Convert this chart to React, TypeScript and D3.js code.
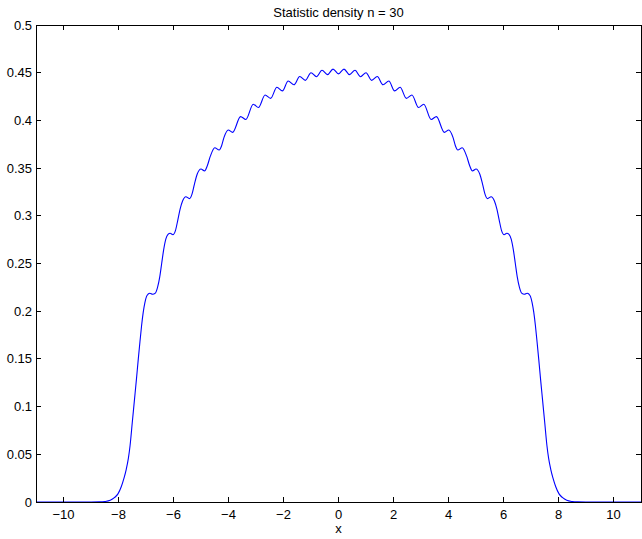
import React from "react";
import * as d3 from "d3";

const titleText = "Statistic density n = 30";
const xLabelText = "x";
const xTicks = [-10, -8, -6, -4, -2, 0, 2, 4, 6, 8, 10];
const yTicks = [0, 0.05, 0.1, 0.15, 0.2, 0.25, 0.3, 0.35, 0.4, 0.45, 0.5];
const yTickLabels = ["0", "0.05", "0.1", "0.15", "0.2", "0.25", "0.3", "0.35", "0.4", "0.45", "0.5"];

const densityX = [
  -11, -9.5, -9, -8.7, -8.5, -8.3, -8.15, -8.02, -7.9, -7.8,
  -7.72, -7.64, -7.58, -7.5, -7.42, -7.35, -7.28, -7.22, -7.16, -7.1,
  -7.04, -6.98, -6.92, -6.86, -6.76, -6.66, -6.58, -6.5, -6.43, -6.36,
  -6.28, -6.2, -6.12, -6.02, -5.93, -5.84, -5.76, -5.67, -5.55, -5.42,
  -5.33, -5.24, -5.14, -5.0, -4.87, -4.77, -4.66, -4.5, -4.34, -4.25,
  -4.16, -4.01, -3.85, -3.56, -3.37, -3.1, -2.91, -2.67, -2.47, -2.24,
  -2.04, -1.83, -1.62, -1.41, -1.205, -1.0, -0.8, -0.6, -0.4, -0.2,
  0,
  0.2, 0.4, 0.6, 0.8, 1.0, 1.205, 1.41, 1.62, 1.83, 2.04,
  2.24, 2.47, 2.67, 2.91, 3.1, 3.37, 3.56, 3.85, 4.01, 4.16,
  4.25, 4.34, 4.5, 4.66, 4.77, 4.87, 5.0, 5.14, 5.24, 5.33,
  5.42, 5.55, 5.67, 5.76, 5.84, 5.93, 6.02, 6.12, 6.2, 6.28,
  6.36, 6.43, 6.5, 6.58, 6.66, 6.76, 6.86, 6.92, 6.98, 7.04,
  7.1, 7.16, 7.22, 7.28, 7.35, 7.42, 7.5, 7.58, 7.64, 7.72,
  7.8, 7.9, 8.02, 8.15, 8.3, 8.5, 8.7, 9, 9.5, 11,
];

const densityY = [
  0, 0, 0, 0.0001, 0.0005, 0.0018, 0.0045, 0.0085, 0.016, 0.025,
  0.034, 0.046, 0.059, 0.083, 0.107, 0.128, 0.15, 0.168, 0.185, 0.199,
  0.209, 0.2155, 0.218, 0.2188, 0.2178, 0.219, 0.225, 0.236, 0.25, 0.264,
  0.2755, 0.2805, 0.2817, 0.2802, 0.2845, 0.296, 0.307, 0.3155, 0.32, 0.318,
  0.3225, 0.333, 0.3435, 0.349, 0.347, 0.3525, 0.3625, 0.3714, 0.369, 0.3735,
  0.3825, 0.39, 0.3875, 0.404, 0.401, 0.417, 0.4135, 0.4266, 0.4231, 0.4347,
  0.4309, 0.4413, 0.4373, 0.446, 0.442, 0.45, 0.4458, 0.4525, 0.448, 0.4538,
  0.4488,
  0.4538, 0.448, 0.4525, 0.4458, 0.45, 0.442, 0.446, 0.4373, 0.4413, 0.4309,
  0.4347, 0.4231, 0.4266, 0.4135, 0.417, 0.401, 0.404, 0.3875, 0.39, 0.3825,
  0.3735, 0.369, 0.3714, 0.3625, 0.3525, 0.347, 0.349, 0.3435, 0.333, 0.3225,
  0.318, 0.32, 0.3155, 0.307, 0.296, 0.2845, 0.2802, 0.2817, 0.2805, 0.2755,
  0.264, 0.25, 0.236, 0.225, 0.219, 0.2178, 0.2188, 0.218, 0.2155, 0.209,
  0.199, 0.185, 0.168, 0.15, 0.128, 0.107, 0.083, 0.059, 0.046, 0.034,
  0.025, 0.016, 0.0085, 0.0045, 0.0018, 0.0005, 0.0001, 0, 0, 0,
];

const W = 642;
const H = 539;
const M = { left: 36, right: 1, top: 25, bottom: 37 };
const FONT = "'Liberation Sans', Arial, Helvetica, sans-serif";

export default function App() {
  const x = d3.scaleLinear().domain([-11, 11]).range([M.left, W - M.right]);
  const y = d3.scaleLinear().domain([0, 0.5]).range([H - M.bottom, M.top]);
  const pts: [number, number][] = densityX.map((v, i) => [v, densityY[i]]);
  const line = d3
    .line<[number, number]>()
    .x((d) => x(d[0]))
    .y((d) => y(d[1]))
    .curve(d3.curveMonotoneX);
  const x0 = x(-11);
  const x1 = x(11);
  const y0 = y(0);
  const y1 = y(0.5);
  const tl = 5;
  const fmtX = (v: number) => (v < 0 ? "\u2212" + Math.abs(v) : String(v));

  return (
    <svg
      width={W}
      height={H}
      style={{ position: "absolute", left: 0, top: 0, background: "#fff" }}
      fontFamily={FONT}
    >
      <rect x={0} y={0} width={W} height={H} fill="#fff" />
      <path d={line(pts) || ""} fill="none" stroke="#0000ff" strokeWidth={1.1} />
      <g stroke="#000" strokeWidth={1} fill="none" shapeRendering="crispEdges">
        <rect x={x0} y={y1} width={x1 - x0} height={y0 - y1} />
        {xTicks.map((t) => (
          <g key={"xt" + t}>
            <line x1={x(t)} x2={x(t)} y1={y0} y2={y0 - tl} />
            <line x1={x(t)} x2={x(t)} y1={y1} y2={y1 + tl} />
          </g>
        ))}
        {yTicks.map((t) => (
          <g key={"yt" + t}>
            <line x1={x0} x2={x0 + tl} y1={y(t)} y2={y(t)} />
            <line x1={x1} x2={x1 - tl} y1={y(t)} y2={y(t)} />
          </g>
        ))}
      </g>
      <g fontSize={13} fill="#000">
        {xTicks.map((t) => (
          <text key={"xl" + t} x={x(t)} y={y0 + 17} textAnchor="middle">
            {fmtX(t)}
          </text>
        ))}
        {yTicks.map((t, i) => (
          <text key={"yl" + t} x={x0 - 4} y={y(t) + 4.5} textAnchor="end">
            {yTickLabels[i]}
          </text>
        ))}
        <text x={(x0 + x1) / 2} y={H - 6} textAnchor="middle">
          {xLabelText}
        </text>
        <text x={(x0 + x1) / 2} y={y1 - 8} textAnchor="middle">
          {titleText}
        </text>
      </g>
    </svg>
  );
}
